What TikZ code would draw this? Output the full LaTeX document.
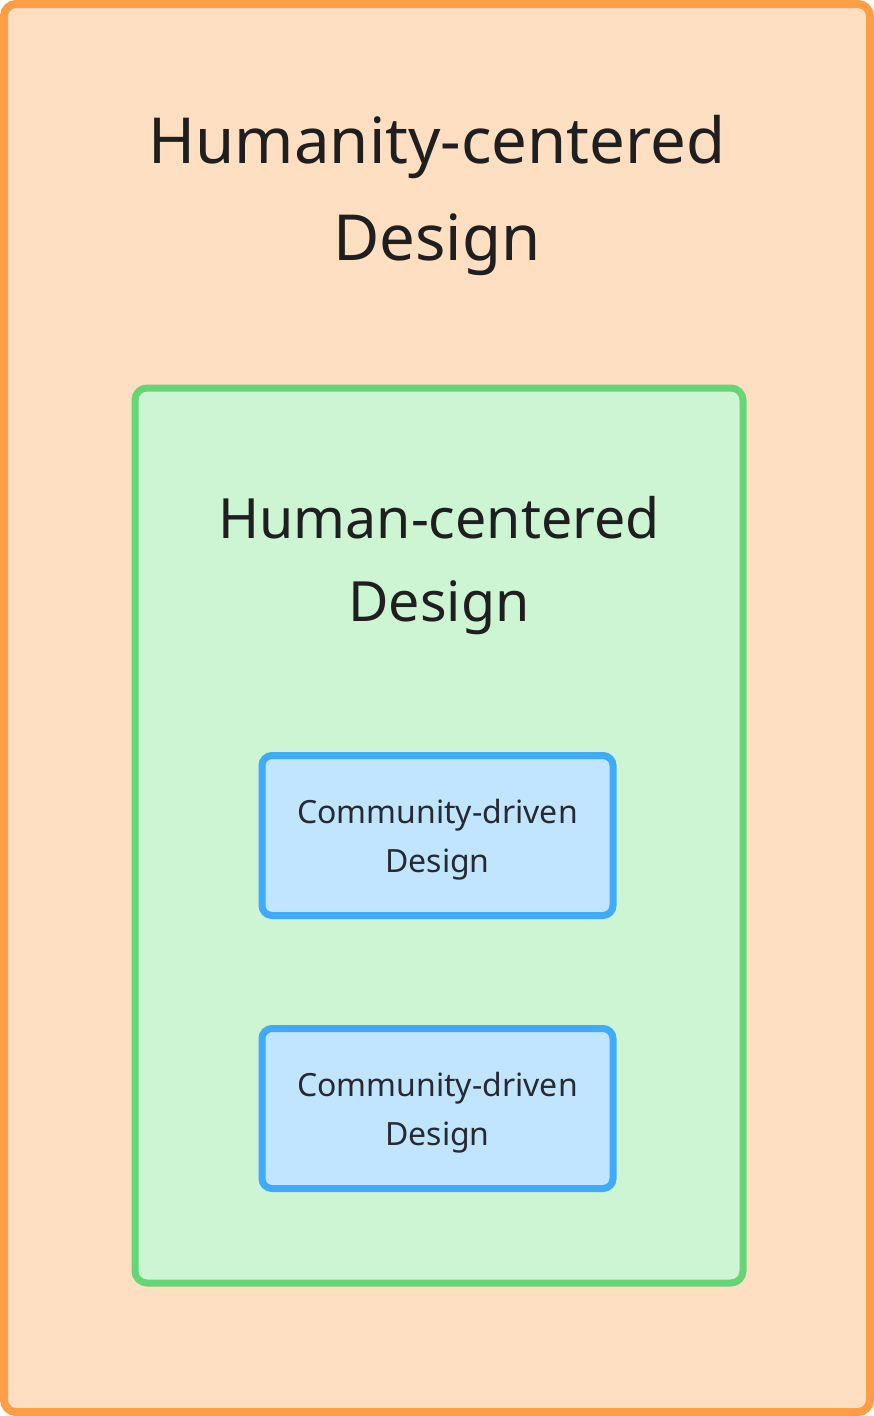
\documentclass[tikz,border=0pt]{standalone}
\usepackage{fontspec}
\setmainfont{Noto Sans}
\usetikzlibrary{positioning}
\definecolor{outerFill}{HTML}{FFDFC2}
\definecolor{outerLine}{HTML}{FF9E45}
\definecolor{midFill}{HTML}{CDF5D3}
\definecolor{midLine}{HTML}{66D575}
\definecolor{innFill}{HTML}{C2E5FF}
\definecolor{innLine}{HTML}{40AAFF}
\definecolor{titleText}{HTML}{1F1F1F}
\definecolor{boxText}{HTML}{252B31}

\begin{document}
\begin{tikzpicture}[x=1pt, y=-1pt,
      frame/.style={rectangle, rounded corners=12pt, inner sep=0pt},
      outerbox/.style={frame, fill=outerFill, draw=outerLine, line width=8pt,
                       minimum width=866pt, minimum height=1408pt},
      midbox/.style={frame, fill=midFill, draw=midLine, line width=7pt,
                     minimum width=608pt, minimum height=895pt},
      innbox/.style={frame, rounded corners=10pt, fill=innFill, draw=innLine, line width=7pt,
                     minimum width=351pt, minimum height=160pt, align=center,
                     text=boxText, font=\fontsize{32}{49}\selectfont},
      bigtitle/.style={align=center, text=titleText, inner sep=0pt,
                       font=\fontsize{63.5}{97}\selectfont},
      midtitle/.style={align=center, text=titleText, inner sep=0pt,
                       font=\fontsize{55.5}{83}\selectfont},
    ]
      \useasboundingbox (0,0) rectangle (874,1416);

      % nested frames
      \node[outerbox] (humanity) at (437,708) {};
      \node[midbox] (human) at (439,835.5) {};

      % titles
      \node[bigtitle] (humanitylbl) at (437,195) {Humanity-centered\\Design};
      \node[midtitle] (humanlbl) at (439,566) {Human-centered\\Design};

      % inner boxes
      \node[innbox] (comm1) at (437.5,835.5) {\rule{0pt}{32pt}Community-driven\\Design};
      \node[innbox, below=106pt of comm1] (comm2) {\rule{0pt}{32pt}Community-driven\\Design};
    \end{tikzpicture}
\end{document}
